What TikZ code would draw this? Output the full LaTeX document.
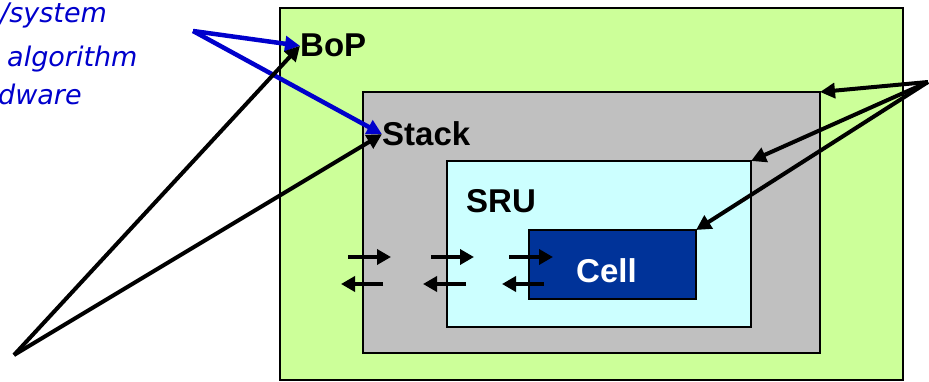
\documentclass[tikz,border=0pt]{standalone}
\usepackage{fontspec}
\setmainfont{Liberation Sans}
\newfontfamily\bluefont{DejaVu Sans}
\usetikzlibrary{arrows.meta}
\definecolor{bopgreen}{RGB}{204,255,153}
\definecolor{stackgray}{RGB}{192,192,192}
\definecolor{srucyan}{RGB}{204,255,255}
\definecolor{cellblue}{RGB}{0,51,153}
\definecolor{txtblue}{RGB}{0,0,204}
\tikzset{
  box/.style={draw=black, line width=1.8pt, inner sep=0pt, outer sep=0pt, anchor=north west},
  lbl/.style={font=\fontsize{33}{38}\selectfont\bfseries, inner sep=0pt, anchor=base west},
  bluetxt/.style={font=\bluefont\itshape\fontsize{27}{32}\selectfont, text=txtblue, inner sep=0pt, anchor=base west},
  bluearrow/.style={draw=txtblue, line width=4.5pt, -{Triangle[length=15pt,width=15pt]}},
  blackarrow/.style={draw=black, line width=4pt, -{Triangle[length=15pt,width=15pt]}},
  smallarrow/.style={draw=black, line width=4pt, -{Triangle[length=14pt,width=15pt]}}
}
\begin{document}
\begin{tikzpicture}[x=1pt,y=-1pt]
\useasboundingbox (0,0) rectangle (929,382);
% boxes
\node[box, fill=bopgreen, minimum width=623pt, minimum height=372pt] (bopbox) at (280,8) {};
\node[box, fill=stackgray, minimum width=457pt, minimum height=261pt] (stackbox) at (363,92) {};
\node[box, fill=srucyan, minimum width=304pt, minimum height=166pt] (srubox) at (447,161) {};
\node[box, fill=cellblue, minimum width=167pt, minimum height=69pt] (cellbox) at (529,230) {};
% labels
\node[lbl] (bop) at (300,57) {BoP};
\node[lbl] (stack) at (382,146) {Stack};
\node[lbl] (sru) at (466,213) {SRU};
\node[lbl, text=white] (cell) at (576,282) {Cell};
% blue texts
\node[bluetxt] (t1) at (0,23) {/system};
\node[bluetxt] (t2) at (7,67) {algorithm};
\node[bluetxt] (t3) at (-2,105) {dware};
% sources
\coordinate (bsrc) at (193,31);
\coordinate (ksrc) at (14,355);
\coordinate (rsrc) at (928,82);
% arrows
\draw[bluearrow] (bsrc) -- (bop.west);
\draw[bluearrow] (bsrc) -- (stack.west);
\draw[blackarrow] (ksrc) -- (bop.west);
\draw[blackarrow] (ksrc) -- (stack.west);
\draw[blackarrow] (rsrc) -- (stackbox.north east);
\draw[blackarrow] (rsrc) -- (srubox.north east);
\draw[blackarrow] (rsrc) -- (cellbox.north east);
% small arrows
\coordinate (r1a) at (348,257); \coordinate (r1b) at (391,257);
\coordinate (r2a) at (431,257); \coordinate (r2b) at (474,257);
\coordinate (r3a) at (509,257); \coordinate (r3b) at (553,257);
\coordinate (l1a) at (383,284); \coordinate (l1b) at (341,284);
\coordinate (l2a) at (466,284); \coordinate (l2b) at (423,284);
\coordinate (l3a) at (544,284); \coordinate (l3b) at (502,284);
\draw[smallarrow] (r1a) -- (r1b);
\draw[smallarrow] (r2a) -- (r2b);
\draw[smallarrow] (r3a) -- (r3b);
\draw[smallarrow] (l1a) -- (l1b);
\draw[smallarrow] (l2a) -- (l2b);
\draw[smallarrow] (l3a) -- (l3b);
\end{tikzpicture}
\end{document}
